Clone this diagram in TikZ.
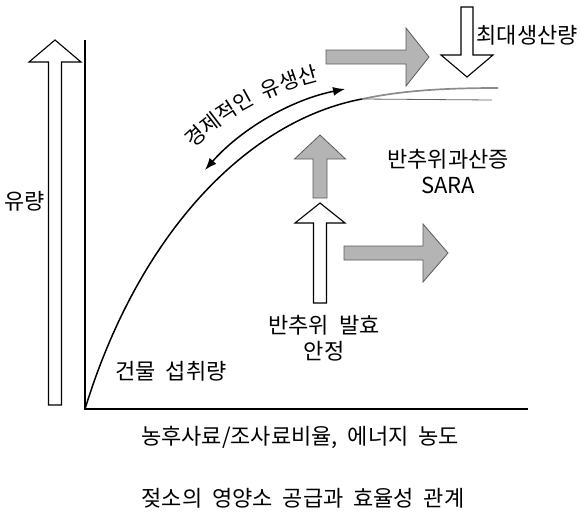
\documentclass[tikz,border=0pt]{standalone}
\usepackage{fontspec}
\setmainfont[WordSpace=2]{Noto Sans CJK KR}
\usetikzlibrary{arrows.meta,decorations.text}
\definecolor{arrgray}{HTML}{B4B4B4}
\definecolor{arredge}{HTML}{5A5A5A}
\definecolor{curvegray}{HTML}{8C8C8C}
\begin{document}
\begin{tikzpicture}[x=1pt,y=-1pt,
  lbl/.style={font=\fontsize{22}{26}\selectfont, inner sep=0pt, align=center},
  openarr/.style={draw=black, fill=white, line width=1.1pt, line join=miter},
  grayarr/.style={draw=arredge, fill=arrgray, line width=0.8pt, line join=miter},
  axis/.style={line width=1.8pt},
  curve/.style={line width=1.5pt},
  dbl/.style={line width=1.5pt, {Latex[length=12pt,width=9pt]}-{Latex[length=12pt,width=9pt]}}]
\useasboundingbox (0,0) rectangle (580,520);

% axes
\coordinate (O) at (85,409);
\coordinate (Ytop) at (85,40);
\coordinate (Xend) at (528,409);
\draw[axis] (Ytop) -- (O) -- (Xend);

% big open arrow (유량)
\draw[openarr] (48.5,405) -- (48.5,62) -- (29,62) -- (55,40) -- (81,62) -- (61.5,62) -- (61.5,405) -- cycle;

% main curve
\coordinate (Cend) at (362,99);
\draw[curve] (O) .. controls (140,230) and (250,120) .. (Cend);
\draw[line width=1.7pt, color=curvegray] (Cend) .. controls (400,91) and (440,88) .. (498,88);
\draw[line width=0.8pt, color=curvegray!70!black] (Cend) -- (492,100);

% double arrow
\coordinate (Da) at (205,170);
\coordinate (Db) at (345,89);
\draw[dbl] (Da) .. controls (240,130) and (290,100) .. (Db);
\path[decorate, decoration={text along path, text align=center,
  text format delimiters={|}{|},
  text={|\fontsize{21}{24}\selectfont|경제적인 유생산}}]
  (182,160) .. controls (221,116) and (276,88) .. (335,77);

% top gray right arrow
\draw[grayarr] (326,50) -- (406,50) -- (406,28) -- (429,57) -- (406,86) -- (406,64) -- (326,64) -- cycle;
% open down arrow
\draw[openarr] (461,7) -- (473,7) -- (473,55) -- (493,55) -- (467,77) -- (441,55) -- (461,55) -- cycle;
% gray up arrow
\draw[grayarr] (313,198) -- (313,159) -- (294.5,159) -- (320,135) -- (345.5,159) -- (327,159) -- (327,198) -- cycle;
% open up arrow
\draw[openarr] (313.5,303) -- (313.5,223) -- (295,223) -- (320,203) -- (345,223) -- (326.5,223) -- (326.5,303) -- cycle;
% lower gray right arrow
\draw[grayarr] (344,246) -- (423,246) -- (423,224) -- (448,253) -- (423,282) -- (423,260) -- (344,260) -- cycle;

% labels
\node[lbl] (flow) at (25,201) {유량};
\node[lbl, anchor=east] (maxprod) at (578,35) {최대생산량};
\node[lbl] (sara) at (448,172) {반추위과산증\\SARA};
\node[lbl] (ferm) at (324,338) {반추위 발효\\안정};
\node[lbl] (dmi) at (171,371) {건물 섭취량};
\node[lbl] (xlabel) at (300,437) {농후사료/조사료비율, 에너지 농도};
\node[lbl] (caption) at (303,498) {젖소의 영양소 공급과 효율성 관계};
\end{tikzpicture}
\end{document}
